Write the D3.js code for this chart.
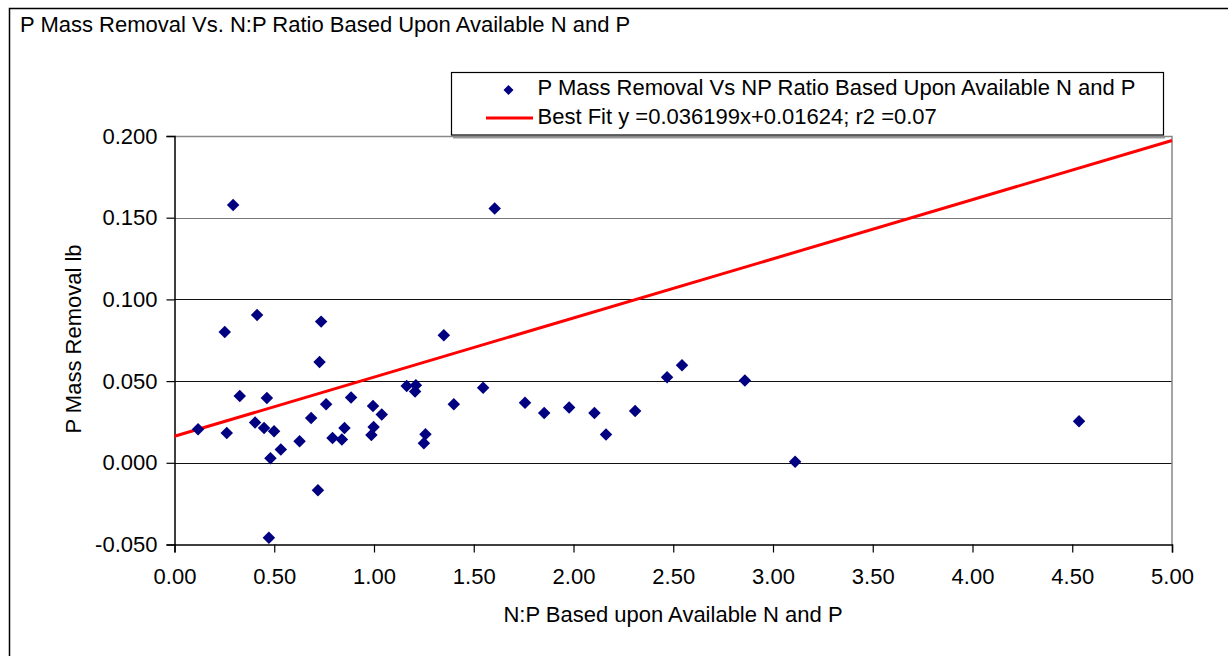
<!DOCTYPE html>
<html>
<head>
<meta charset="utf-8">
<script src="https://cdn.jsdelivr.net/npm/d3@7"></script>
<style>
  html, body { margin: 0; padding: 0; background: #fff; }
  svg { display: block; font-family: "Liberation Sans", Arial, sans-serif; }
</style>
</head>
<body>
<svg id="chart" width="1228" height="656"></svg>
<script>
// ---- data ----
const npRatio = [0.294, 1.605, 0.414, 0.252, 0.735, 1.350, 0.727, 0.327, 0.463, 1.164,
  1.210, 1.206, 1.547, 0.760, 0.885, 1.400, 0.995, 1.039, 0.118, 0.262,
  0.404, 0.449, 0.499, 0.685, 0.852, 0.792, 0.839, 0.998, 0.987, 1.258,
  1.250, 0.627, 0.533, 0.481, 0.719, 0.473, 1.757, 1.853, 1.978, 2.105,
  2.163, 2.309, 2.469, 2.544, 2.859, 3.111, 4.534];
const pRemoval = [0.1578, 0.1556, 0.0905, 0.0800, 0.0864, 0.0780, 0.0617, 0.0409, 0.0397, 0.0470,
  0.0474, 0.0436, 0.0460, 0.0358, 0.0399, 0.0358, 0.0348, 0.0295, 0.0205, 0.0182,
  0.0246, 0.0213, 0.0193, 0.0274, 0.0213, 0.0152, 0.0142, 0.0219, 0.0170, 0.0174,
  0.0119, 0.0132, 0.0081, 0.0028, -0.0168, -0.0458, 0.0368, 0.0305, 0.0338, 0.0305,
  0.0173, 0.0317, 0.0523, 0.0597, 0.0503, 0.0007, 0.0254];
const fitSlope = 0.036199;
const fitIntercept = 0.01624;
const xTicks = [0, 0.5, 1, 1.5, 2, 2.5, 3, 3.5, 4, 4.5, 5];
const yTicks = [-0.05, 0, 0.05, 0.1, 0.15, 0.2];
const titleText = "P Mass Removal Vs. N:P Ratio Based Upon Available N and P";
const seriesName = "P Mass Removal Vs NP Ratio Based Upon Available N and P";
const fitName = "Best Fit y =0.036199x+0.01624; r2 =0.07";
const xTitle = "N:P Based upon Available N and P";
const yTitle = "P Mass Removal lb";

// ---- layout ----
const svg = d3.select("#chart");
const plot = { left: 174.5, right: 1172, top: 136, bottom: 544.5 };
const x = d3.scaleLinear().domain([0, 5]).range([plot.left, plot.right]);
const y = d3.scaleLinear().domain([-0.05, 0.2]).range([plot.bottom, plot.top]);
const FS = 22;
const FF = "Liberation Sans, Arial, sans-serif";

// outer chart border
svg.append("path").attr("d", "M9.5,656 V8.5 H1228")
  .attr("fill", "none").attr("stroke", "#000").attr("stroke-width", 1.5);

// title
svg.append("text").attr("x", 20).attr("y", 32).attr("font-size", FS)
  .attr("fill", "#000").text(titleText);

// gridlines
svg.append("g").selectAll("line").data(yTicks.filter(d => d > -0.05 && d < 0.2)).join("line")
  .attr("x1", plot.left).attr("x2", plot.right)
  .attr("y1", d => Math.round(y(d)) + 0.5).attr("y2", d => Math.round(y(d)) + 0.5)
  .attr("stroke", d => d >= 0.15 ? "#777" : "#111").attr("stroke-width", 1.2);

// plot area border (top / right gray)
svg.append("path")
  .attr("d", `M${plot.left},${Math.round(plot.top)+0.5} H${plot.right} V${plot.bottom}`)
  .attr("fill", "none").attr("stroke", "#888").attr("stroke-width", 1.5);

// y axis
const fmtY = d => d3.format(".3f")(d).replace("\u2212", "-");
const yAxis = d3.axisLeft(y).tickValues(yTicks).tickFormat(fmtY).tickSize(8).tickPadding(9);
const gy = svg.append("g").attr("transform", `translate(${plot.left},0)`).call(yAxis);
gy.select(".domain").attr("stroke", "#000").attr("stroke-width", 1.5);
gy.selectAll(".tick line").attr("stroke", "#000").attr("stroke-width", 1.2);
gy.selectAll(".tick text").attr("font-size", FS).attr("font-family", FF).attr("fill", "#000");

// x axis
const xAxis = d3.axisBottom(x).tickValues(xTicks).tickFormat(d3.format(".2f")).tickSize(8).tickPadding(16);
const gx = svg.append("g").attr("transform", `translate(0,${plot.bottom})`).call(xAxis);
gx.select(".domain").attr("stroke", "#000").attr("stroke-width", 1.5);
gx.selectAll(".tick line").attr("stroke", "#000").attr("stroke-width", 1.2);
gx.selectAll(".tick text").attr("font-size", FS).attr("font-family", FF).attr("fill", "#000");

// axis titles
svg.append("text").attr("x", 673).attr("y", 622).attr("text-anchor", "middle")
  .attr("font-size", FS).text(xTitle);
svg.append("text").attr("transform", "translate(81,339) rotate(-90)").attr("text-anchor", "middle")
  .attr("font-size", FS).text(yTitle);

// best fit line
svg.append("line")
  .attr("x1", x(0)).attr("y1", y(fitIntercept))
  .attr("x2", x(5)).attr("y2", y(fitSlope * 5 + fitIntercept))
  .attr("stroke", "#ff0000").attr("stroke-width", 3);

// scatter points
const pts = npRatio.map((v, i) => [v, pRemoval[i]]);
const diamond = d3.symbol().type(d3.symbolSquare).size(78);
svg.append("g").selectAll("path").data(pts).join("path")
  .attr("d", diamond)
  .attr("transform", d => `translate(${x(d[0])},${y(d[1])}) rotate(45)`)
  .attr("fill", "#000080");

// legend
const lg = svg.append("g");
lg.append("rect").attr("x", 453).attr("y", 137).attr("width", 712).attr("height", 1.5).attr("fill", "#999");
lg.append("rect").attr("x", 451.5).attr("y", 72.5).attr("width", 712).attr("height", 62.5)
  .attr("fill", "#fff").attr("stroke", "#000").attr("stroke-width", 1.2);
lg.append("path").attr("d", d3.symbol().type(d3.symbolSquare).size(50))
  .attr("transform", "translate(508.5,90) rotate(45)").attr("fill", "#000080");
lg.append("text").attr("x", 537.5).attr("y", 95).attr("font-size", FS).text(seriesName);
lg.append("line").attr("x1", 486).attr("x2", 533).attr("y1", 118).attr("y2", 118)
  .attr("stroke", "#ff0000").attr("stroke-width", 3);
lg.append("text").attr("x", 537.5).attr("y", 123.5).attr("font-size", FS).text(fitName);
</script>
</body>
</html>
